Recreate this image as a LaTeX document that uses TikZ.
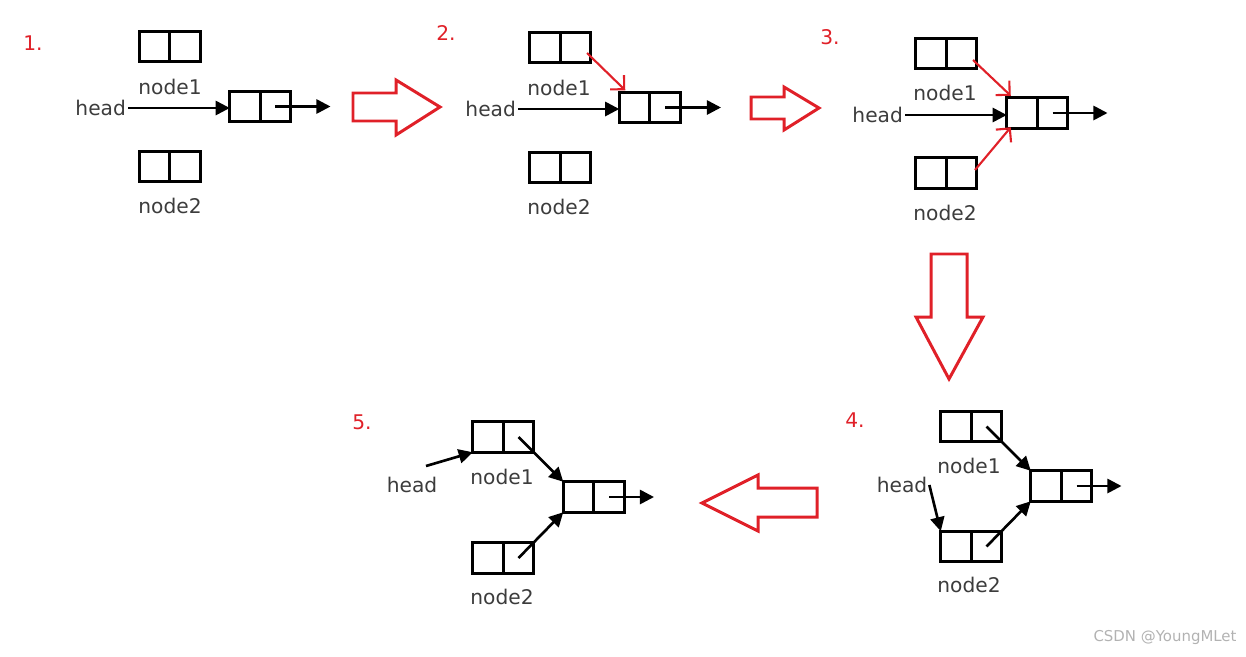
\documentclass[tikz,border=0pt]{standalone}
\usepackage{fontspec}
\setmainfont{DejaVu Sans}
\usetikzlibrary{arrows.meta, positioning}
\definecolor{stepred}{RGB}{224,32,40}
\definecolor{labelgray}{RGB}{60,60,60}
\tikzset{
  cell/.style={draw, line width=1.7pt, minimum width=0.61cm, minimum height=0.61cm, inner sep=0pt, outer sep=0pt},
  link/.style={-{Triangle[length=8pt,width=8pt]}, line width=1.5pt},
  redlink/.style={-{Straight Barb[angle=90:8pt]}, stepred, line width=1.2pt},
  blockarrow/.style={stepred, line width=1.7pt, line join=miter},
  lbl/.style={text=labelgray, inner sep=1pt, font=\fontsize{11.5}{13}\selectfont},
  num/.style={text=stepred, font=\fontsize{11.5}{13}\selectfont},
}

\begin{document}
\begin{tikzpicture}[x=0.02cm, y=-0.02cm]
\useasboundingbox (0,0) rectangle (1246,656);

% step 1
\node (s1)[num] at (33,43) {1.};
\node (p1n1a)[cell] at (154.5,46.5) {};
\node (p1n1b)[cell, right=0pt of p1n1a] {};
\node (p1ma)[cell] at (245,106.5) {};
\node (p1mb)[cell, right=0pt of p1ma] {};
\node (p1n2a)[cell] at (154.5,166.5) {};
\node (p1n2b)[cell, right=0pt of p1n2a] {};
\node (p1l1)[lbl] at (170,87) {node1};
\node (p1l2)[lbl] at (170,206) {node2};
\node (p1h)[lbl, anchor=east] at (128,108) {head};
\draw[link] (p1h.east) -- (p1h.east -| p1ma.west);
\draw[link] (p1mb.center) -- ++(55,0);

\draw[blockarrow] (353,93) -- (396,93) -- (396,80) -- (440,107) -- (396,135) -- (396,121) -- (353,121) -- cycle;

% step 2
\node (s2)[num] at (446,33) {2.};
\node (p2n1a)[cell] at (545,47.5) {};
\node (p2n1b)[cell, right=0pt of p2n1a] {};
\node (p2ma)[cell] at (634.5,107.5) {};
\node (p2mb)[cell, right=0pt of p2ma] {};
\node (p2n2a)[cell] at (545,167.5) {};
\node (p2n2b)[cell, right=0pt of p2n2a] {};
\node (p2l1)[lbl] at (559,88) {node1};
\node (p2l2)[lbl] at (559,207) {node2};
\node (p2h)[lbl, anchor=east] at (518,109) {head};
\draw[link] (p2h.east) -- (p2h.east -| p2ma.west);
\draw[link] (p2mb.center) -- ++(56,0);
\draw[redlink] ([shift={(11.5,5.5)}]p2n1b.center) -- ([shift={(6,-2)}]p2ma.north west);

\draw[blockarrow] (751,97) -- (784,97) -- (784,87) -- (819,108) -- (784,130) -- (784,119) -- (751,119) -- cycle;

% step 3
\node (s3)[num] at (830,37) {3.};
\node (p3n1a)[cell] at (931,53.5) {};
\node (p3n1b)[cell, right=0pt of p3n1a] {};
\node (p3ma)[cell] at (1022,113) {};
\node (p3mb)[cell, right=0pt of p3ma] {};
\node (p3n2a)[cell] at (931,173) {};
\node (p3n2b)[cell, right=0pt of p3n2a] {};
\node (p3l1)[lbl] at (945,93) {node1};
\node (p3l2)[lbl] at (945,213) {node2};
\node (p3h)[lbl, anchor=east] at (905,115) {head};
\draw[link] (p3h.east) -- (p3h.east -| p3ma.west);
\draw[link] (p3mb.center) -- ++(55,0);
\draw[redlink] ([shift={(11.5,6.5)}]p3n1b.center) -- ([shift={(4,-2)}]p3ma.north west);
\draw[redlink] ([shift={(13.5,-3)}]p3n2b.center) -- ([shift={(4,-1)}]p3ma.south west);

\draw[blockarrow] (931,254) -- (967,254) -- (967,317) -- (983,317) -- (949,379) -- (916,317) -- (931,317) -- cycle;

% step 4
\node (s4)[num] at (855,420) {4.};
\node (p4n1a)[cell] at (956,426.5) {};
\node (p4n1b)[cell, right=0pt of p4n1a] {};
\node (p4ma)[cell] at (1046,486) {};
\node (p4mb)[cell, right=0pt of p4ma] {};
\node (p4n2a)[cell] at (956,546.5) {};
\node (p4n2b)[cell, right=0pt of p4n2a] {};
\node (p4l1)[lbl] at (969,466) {node1};
\node (p4l2)[lbl] at (969,585) {node2};
\node (p4h)[lbl] at (902,485) {head};
\draw[link] (p4h.east) -- (p4n2a.north west);
\draw[link] (p4n1b.center) -- (p4ma.north west);
\draw[link] (p4n2b.center) -- (p4ma.south west);
\draw[link] (p4mb.center) -- ++(45,0);

\draw[blockarrow] (817,488) -- (758,488) -- (758,475) -- (702,503) -- (758,531) -- (758,517) -- (817,517) -- cycle;

% step 5
\node (s5)[num] at (362,422) {5.};
\node (p5n1a)[cell] at (488,437) {};
\node (p5n1b)[cell, right=0pt of p5n1a] {};
\node (p5ma)[cell] at (578.5,497) {};
\node (p5mb)[cell, right=0pt of p5ma] {};
\node (p5n2a)[cell] at (488,558) {};
\node (p5n2b)[cell, right=0pt of p5n2a] {};
\node (p5l1)[lbl] at (502,477) {node1};
\node (p5l2)[lbl] at (502,597) {node2};
\node (p5h)[lbl] at (412,485) {head};
\coordinate (p5t) at (426,466);
\draw[link] (p5t) -- (p5n1a.south west);
\draw[link] (p5n1b.center) -- (p5ma.north west);
\draw[link] (p5n2b.center) -- (p5ma.south west);
\draw[link] (p5mb.center) -- ++(45,0);

\node (mark)[text=gray!60, font=\fontsize{8.5}{10}\selectfont] at (1165,637) {CSDN @YoungMLet};
\end{tikzpicture}
\end{document}
